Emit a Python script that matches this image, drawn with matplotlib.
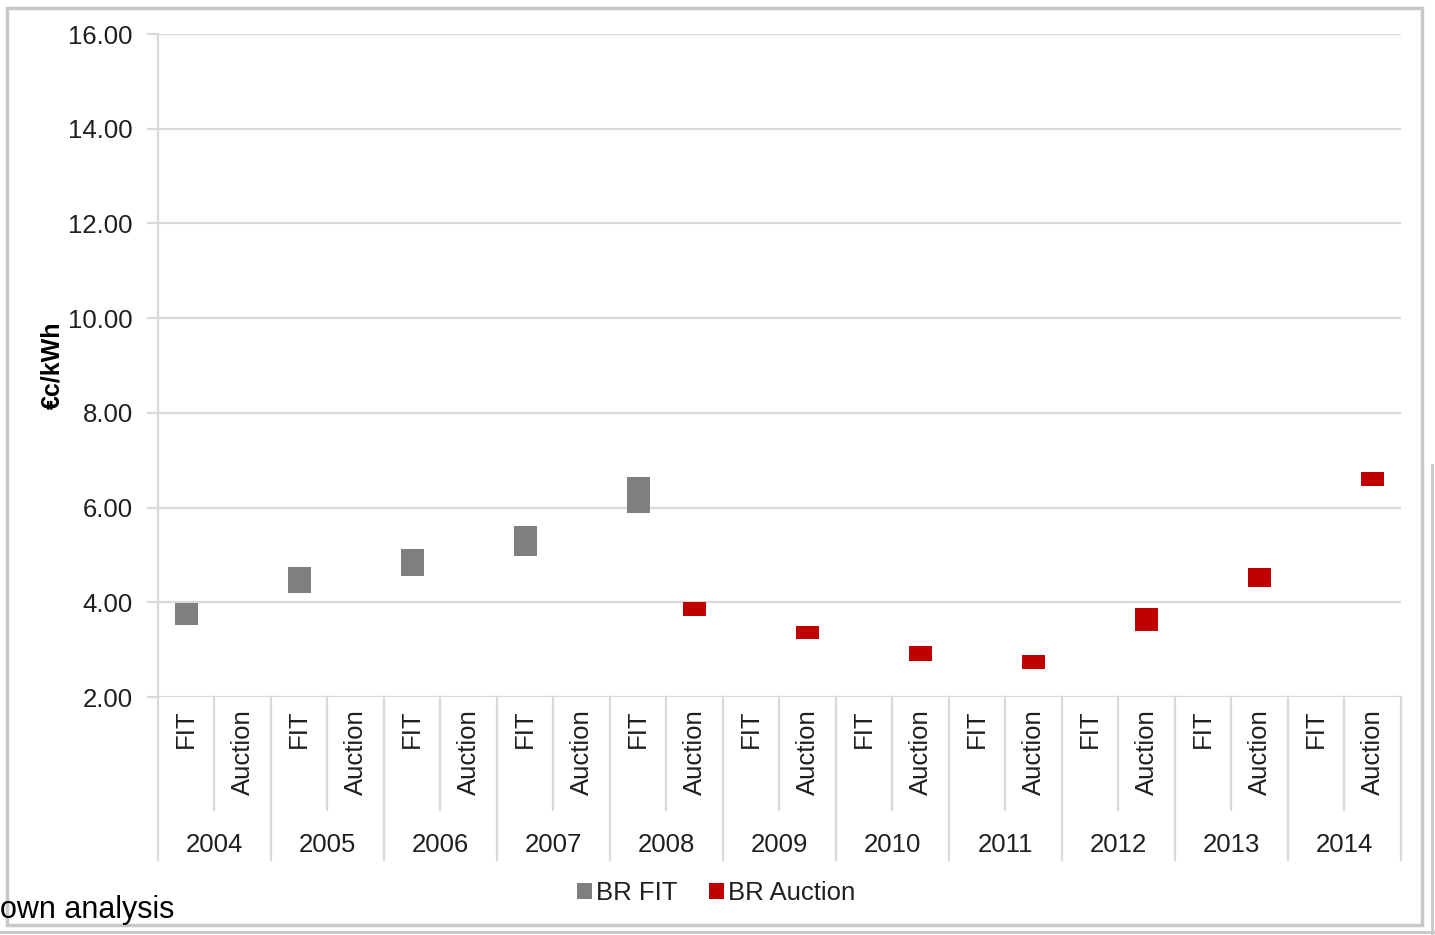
import matplotlib
matplotlib.use("Agg")
import matplotlib.pyplot as plt
import matplotlib.transforms as mtransforms
from matplotlib.lines import Line2D
from matplotlib.patches import Rectangle
import numpy as np

plt.rcParams['font.family'] = ['Liberation Sans', 'DejaVu Sans']

# Price ranges per year (€c/kWh), low and high end of each range
years = ['2004', '2005', '2006', '2007', '2008', '2009', '2010', '2011', '2012', '2013', '2014']
fit_low = [3.52, 4.20, 4.55, 4.97, 5.89, np.nan, np.nan, np.nan, np.nan, np.nan, np.nan]
fit_high = [3.98, 4.75, 5.13, 5.62, 6.65, np.nan, np.nan, np.nan, np.nan, np.nan, np.nan]
auction_low = [np.nan, np.nan, np.nan, np.nan, 3.72, 3.22, 2.77, 2.59, 3.39, 4.33, 6.46]
auction_high = [np.nan, np.nan, np.nan, np.nan, 4.00, 3.50, 3.07, 2.89, 3.87, 4.72, 6.75]
sub_labels = ['FIT', 'Auction']
y_ticks = [2, 4, 6, 8, 10, 12, 14, 16]

GRAY = '#7f7f7f'
RED = '#c00000'
GRID = '#d9d9d9'
TXT = '#1f1f1f'

fig = plt.figure(figsize=(14.35, 9.35), dpi=100)
ax = fig.add_axes([0.1101, 0.2545, 0.8662, 0.7091])

n = len(years)
x_fit = np.arange(n) * 2
x_auc = np.arange(n) * 2 + 1

fit_low_a = np.array(fit_low)
fit_high_a = np.array(fit_high)
auc_low_a = np.array(auction_low)
auc_high_a = np.array(auction_high)

ax.bar(x_fit, fit_high_a - fit_low_a, bottom=fit_low_a, width=0.4, color=GRAY, label='BR FIT', zorder=3)
ax.bar(x_auc, auc_high_a - auc_low_a, bottom=auc_low_a, width=0.4, color=RED, label='BR Auction', zorder=3)

ax.set_xlim(-0.5, 2 * n - 0.5)
ax.set_ylim(2, 16)
ax.set_yticks(y_ticks)
ax.set_yticklabels([f'{v:.2f}' for v in y_ticks], fontsize=18.5, color=TXT)
ax.yaxis.grid(True, color=GRID, linewidth=1.6, zorder=0)
ax.tick_params(axis='y', length=8, width=1.6, color=GRID, pad=10)

# category labels (FIT / Auction) under each bar
ax.set_xticks(np.arange(2 * n))
ax.set_xticklabels(sub_labels * n, rotation=90, fontsize=18.5, color=TXT, va='top')
ax.tick_params(axis='x', length=0, pad=9)

for side in ['top', 'right', 'bottom']:
    ax.spines[side].set_visible(False)
ax.spines['left'].set_color(GRID)
ax.spines['left'].set_linewidth(1.6)

ax.set_ylabel('€c/kWh', fontsize=18, fontweight='bold', color='black', labelpad=3)

# separators and year labels of the two-level category axis
trans = mtransforms.blended_transform_factory(ax.transData, ax.transAxes)
for j in range(2 * n + 1):
    b = j - 0.5
    depth = -0.246 if j % 2 == 0 else -0.170
    ax.plot([b, b], [0, depth], transform=trans, clip_on=False, color=GRID, linewidth=1.6)
for i, yr in enumerate(years):
    ax.text(2 * i + 0.5, -0.223, yr, transform=trans, ha='center', va='center',
            fontsize=18.5, color=TXT)

fig.legend(loc='center', bbox_to_anchor=(0.499, 0.045), ncol=2, frameon=False,
           fontsize=18.5, handlelength=0.6, handleheight=0.6, handletextpad=0.15,
           columnspacing=1.2, labelcolor=TXT)

# outer frame of the chart
fig.add_artist(Rectangle((7 / 1435, 1 - 925 / 935), (1422 - 7) / 1435, (925 - 8) / 935,
                         transform=fig.transFigure, fill=False, edgecolor='#c8c8c8', linewidth=2.5))
fig.add_artist(Line2D([1432 / 1435, 1432 / 1435], [1 - 465 / 935, 0], transform=fig.transFigure,
                      color='#c8c8c8', linewidth=2))
fig.add_artist(Line2D([0, 1], [1 - 932 / 935, 1 - 932 / 935], transform=fig.transFigure,
                      color='#c8c8c8', linewidth=2))

fig.text(0, 1 - 910 / 935, 'own analysis', ha='left', va='center', fontsize=22, color='black')

fig.savefig('out.png', dpi=100)
